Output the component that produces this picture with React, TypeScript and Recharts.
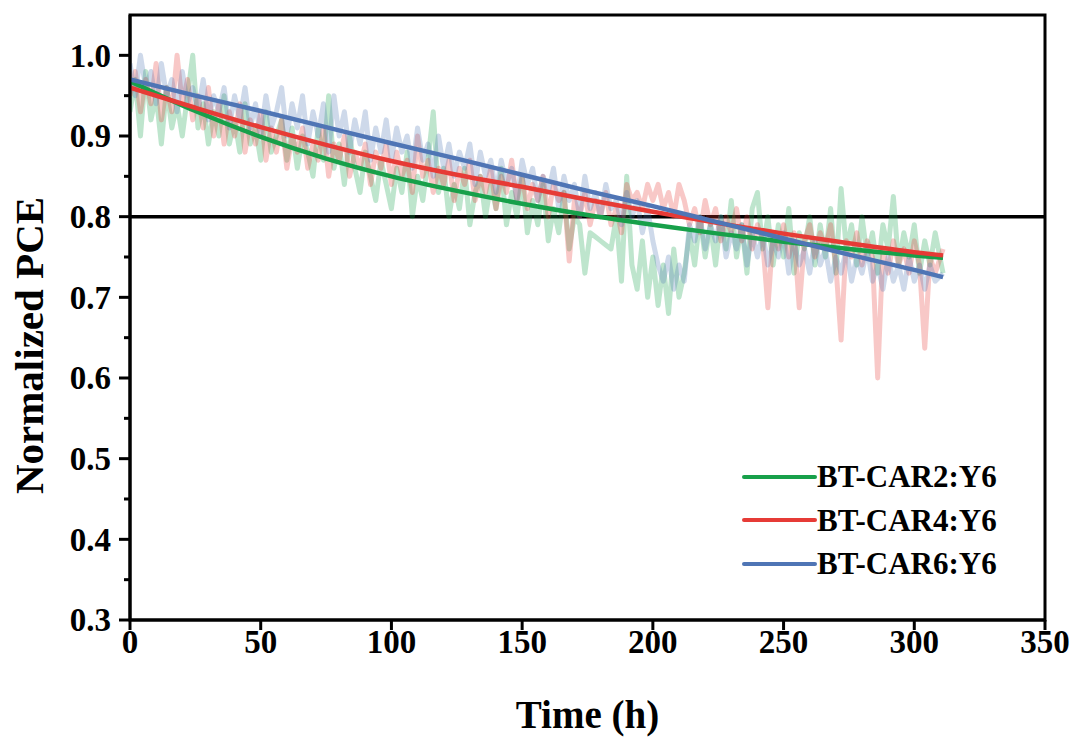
import React from 'react';
import {
  ComposedChart,
  Line,
  XAxis,
  YAxis,
  ReferenceLine,
  ReferenceArea,
  Legend,
  Label,
} from 'recharts';

// measured time points (h)
const rawTime = [
  0, 2, 4, 6, 8, 10, 12, 14, 16, 18,
  20, 22, 24, 26, 28, 30, 32, 34, 36, 38,
  40, 42, 44, 46, 48, 50, 52, 54, 56, 58,
  60, 62, 64, 66, 68, 70, 72, 74, 76, 78,
  80, 82, 84, 86, 88, 90, 92, 94, 96, 98,
  100, 102, 104, 106, 108, 110, 112, 114, 116, 118,
  120, 122, 124, 126, 128, 130, 132, 134, 136, 138,
  140, 142, 144, 146, 148, 150, 152, 154, 156, 158,
  160, 162, 164, 166, 168, 170, 172, 174, 176, 178,
  180, 182, 184, 186, 188, 190, 192, 194, 196, 198,
  200, 202, 204, 206, 208, 210, 212, 214, 216, 218,
  220, 222, 224, 226, 228, 230, 232, 234, 236, 238,
  240, 242, 244, 246, 248, 250, 252, 254, 256, 258,
  260, 262, 264, 266, 268, 270, 272, 274, 276, 278,
  280, 282, 284, 286, 288, 290, 292, 294, 296, 298,
  300, 302, 304, 306, 308, 311,
];

const car2Raw = [
  0.93, 0.97, 0.9, 0.98, 0.92, 0.95, 0.89, 0.96, 0.91, 0.94,
  0.9, 0.95, 1.0, 0.91, 0.94, 0.89, 0.93, 0.9, 0.95, 0.89,
  0.92, 0.88, 0.94, 0.89, 0.91, 0.87, 0.93, 0.88, 0.9, 0.92,
  0.87, 0.91, 0.86, 0.9, 0.88, 0.85, 0.91, 0.87, 0.95, 0.86,
  0.89, 0.84, 0.9, 0.86, 0.83, 0.88, 0.85, 0.82, 0.87, 0.84,
  0.81, 0.86, 0.83, 0.88, 0.8, 0.85, 0.82, 0.87, 0.93, 0.83,
  0.86, 0.8, 0.84, 0.81, 0.86, 0.79, 0.83, 0.85, 0.8, 0.84,
  0.81, 0.86, 0.79, 0.83, 0.8, 0.85, 0.78, 0.82, 0.79, 0.84,
  0.77, 0.81, 0.78, 0.83, 0.76, 0.8, 0.79, 0.73, 0.78, 0.775,
  0.77, 0.765, 0.76, 0.8, 0.72, 0.85, 0.74, 0.71, 0.77, 0.7,
  0.75, 0.69, 0.74, 0.68, 0.76, 0.7, 0.73, 0.78, 0.74, 0.8,
  0.75, 0.79, 0.74, 0.8, 0.76, 0.82, 0.75, 0.79, 0.73, 0.81,
  0.83, 0.76, 0.8, 0.74, 0.79, 0.75, 0.81, 0.73, 0.78, 0.76,
  0.8, 0.74, 0.79, 0.75, 0.81, 0.73, 0.835, 0.76, 0.79, 0.74,
  0.8, 0.75, 0.78, 0.73, 0.79, 0.76, 0.825, 0.74, 0.78, 0.75,
  0.79, 0.73, 0.77, 0.74, 0.78, 0.73,
];

const car4Raw = [
  0.95, 0.98, 0.93, 0.97, 0.94, 0.99, 0.92, 0.96, 0.93, 1.0,
  0.94, 0.97, 0.92, 0.95, 0.91, 0.96, 0.9, 0.94, 0.89, 0.93,
  0.9, 0.94, 0.88, 0.92, 0.89, 0.93, 0.87, 0.91, 0.88, 0.92,
  0.86, 0.9, 0.88, 0.91, 0.86, 0.89, 0.87, 0.91, 0.85, 0.89,
  0.87, 0.9, 0.85, 0.88, 0.86, 0.89, 0.84, 0.88, 0.86, 0.89,
  0.84, 0.88, 0.85, 0.87, 0.83, 0.9, 0.85, 0.87, 0.83, 0.86,
  0.84, 0.87, 0.82, 0.86, 0.84, 0.87, 0.82, 0.85, 0.83, 0.86,
  0.81, 0.85, 0.83, 0.87, 0.82, 0.85, 0.81, 0.84, 0.82, 0.85,
  0.8, 0.84, 0.82, 0.83, 0.745, 0.82, 0.8, 0.83, 0.79, 0.82,
  0.8, 0.83, 0.79, 0.81, 0.78, 0.84, 0.82, 0.83, 0.81, 0.84,
  0.82, 0.84, 0.81, 0.83, 0.8, 0.84, 0.82, 0.79, 0.81, 0.78,
  0.82, 0.79, 0.81, 0.77, 0.8, 0.78, 0.81, 0.77, 0.8, 0.76,
  0.79, 0.77, 0.687, 0.78, 0.76, 0.79, 0.75, 0.78, 0.687, 0.77,
  0.79, 0.75, 0.78, 0.76, 0.79, 0.74, 0.647, 0.77, 0.75, 0.78,
  0.74, 0.77, 0.75, 0.6, 0.76, 0.73, 0.77, 0.74, 0.76, 0.73,
  0.77, 0.74, 0.637, 0.75, 0.73, 0.76,
];

const car6Raw = [
  0.99, 0.95, 1.0, 0.96, 0.98, 0.94, 0.99, 0.95, 0.97, 0.93,
  0.98, 0.94, 0.96, 0.93, 0.97, 0.92, 0.95, 0.93, 0.96, 0.91,
  0.95, 0.92, 0.96, 0.91, 0.94, 0.9, 0.95, 0.91, 0.93, 0.96,
  0.9, 0.94, 0.91, 0.95, 0.89, 0.93, 0.9, 0.94, 0.88, 0.95,
  0.9, 0.93, 0.88, 0.92, 0.89, 0.93, 0.87, 0.91, 0.88, 0.92,
  0.87, 0.91, 0.88, 0.9, 0.86, 0.91, 0.87, 0.89, 0.85, 0.9,
  0.86, 0.89, 0.85, 0.88, 0.86, 0.89, 0.84, 0.88, 0.85, 0.87,
  0.83, 0.87, 0.84, 0.86, 0.82, 0.87, 0.84, 0.86, 0.82, 0.85,
  0.83, 0.86, 0.81, 0.85, 0.82, 0.84, 0.8, 0.85, 0.81, 0.83,
  0.8, 0.84, 0.81, 0.82, 0.79, 0.83, 0.8, 0.82, 0.78, 0.81,
  0.77, 0.74, 0.72, 0.75, 0.71, 0.74, 0.72, 0.79, 0.77, 0.8,
  0.76, 0.79, 0.77, 0.8, 0.75, 0.78, 0.76, 0.79, 0.74, 0.78,
  0.75, 0.78, 0.74, 0.77, 0.75, 0.78, 0.73, 0.77, 0.74, 0.76,
  0.73, 0.77, 0.74, 0.76, 0.72, 0.75, 0.73, 0.76, 0.72, 0.75,
  0.73, 0.76, 0.72, 0.74, 0.71, 0.75, 0.72, 0.74, 0.71, 0.75,
  0.72, 0.74, 0.71, 0.74, 0.72, 0.73,
];

// fitted trend lines
const fitTime = [0, 25, 50, 75, 100, 125, 150, 175, 200, 225, 250, 275, 300, 311];
const car2Fit = [0.968, 0.931, 0.899, 0.872, 0.85, 0.832, 0.816, 0.802, 0.79, 0.779, 0.769, 0.76, 0.752, 0.749];
const car4Fit = [0.96, 0.935, 0.911, 0.889, 0.869, 0.852, 0.837, 0.821, 0.806, 0.792, 0.779, 0.767, 0.756, 0.752];
const car6Fit = [0.97, 0.95, 0.931, 0.911, 0.891, 0.872, 0.852, 0.832, 0.813, 0.793, 0.773, 0.753, 0.734, 0.725];

const seriesNames = ['BT-CAR2:Y6', 'BT-CAR4:Y6', 'BT-CAR6:Y6'];
const seriesColors = ['#17a04a', '#e63b36', '#4f75b5'];

const xTicks = [0, 50, 100, 150, 200, 250, 300, 350];
const yMajor = [0.3, 0.4, 0.5, 0.6, 0.7, 0.8, 0.9, 1.0];
const yMinor = [0.35, 0.45, 0.55, 0.65, 0.75, 0.85, 0.95];

const rawData = rawTime.map((t, i) => ({ t, a: car2Raw[i], b: car4Raw[i], c: car6Raw[i] }));
const fitData = fitTime.map((t, i) => ({ t, a: car2Fit[i], b: car4Fit[i], c: car6Fit[i] }));

const FONT = '"Liberation Serif", "Times New Roman", serif';

const YTick = (props: any) => {
  const { x, y, payload } = props;
  const v = Number(payload.value);
  const major = yMajor.some((m) => Math.abs(m - v) < 1e-6);
  return (
    <g>
      <line x1={x} x2={x - (major ? 11 : 6)} y1={y} y2={y} stroke="#000" strokeWidth={3} />
      {major && (
        <text
          x={x - 19}
          y={y}
          dy="0.34em"
          textAnchor="end"
          fontFamily={FONT}
          fontWeight="bold"
          fontSize={33}
          fill="#000"
        >
          {v.toFixed(1)}
        </text>
      )}
    </g>
  );
};

const LegendBox = () => (
  <div style={{ fontFamily: FONT, fontWeight: 'bold', fontSize: 31, lineHeight: '43.5px' }}>
    {seriesNames.map((name, i) => (
      <div key={name} style={{ display: 'flex', alignItems: 'center' }}>
        <span style={{ display: 'inline-block', width: 75, height: 4, background: seriesColors[i], borderRadius: 2 }} />
        <span style={{ color: '#000' }}>{name}</span>
      </div>
    ))}
  </div>
);

export default function App() {
  return (
    <div style={{ position: 'absolute', left: 0, top: 0, background: '#fff' }}>
      <ComposedChart width={1077} height={742} margin={{ top: 15, right: 32, left: 0, bottom: 0 }}>
        <XAxis
          dataKey="t"
          type="number"
          domain={[0, 350]}
          ticks={xTicks}
          interval={0}
          height={122}
          allowDataOverflow
          axisLine={{ stroke: '#000', strokeWidth: 3 }}
          tickLine={{ stroke: '#000', strokeWidth: 3 }}
          tickSize={10}
          tickMargin={0}
          tick={{ fontFamily: FONT, fontWeight: 'bold', fontSize: 33, fill: '#000' }}
        >
          <Label
            value="Time (h)"
            position="insideBottom"
            offset={14}
            style={{ fontFamily: FONT, fontWeight: 'bold', fontSize: 39, fill: '#000' }}
          />
        </XAxis>
        <YAxis
          type="number"
          domain={[0.3, 1.05]}
          ticks={[...yMajor, ...yMinor].sort((p, q) => p - q)}
          interval={0}
          width={130}
          allowDataOverflow
          axisLine={{ stroke: '#000', strokeWidth: 3 }}
          tickLine={false}
          tickSize={0}
          tickMargin={0}
          tick={<YTick />}
        >
          <Label
            content={(p: any) => {
              const vb = p.viewBox;
              const cx = vb.x + 29;
              const cy = vb.y + vb.height / 2 + 28;
              return (
                <text
                  x={cx}
                  y={cy}
                  dy="0.35em"
                  transform={`rotate(-90, ${cx}, ${cy})`}
                  textAnchor="middle"
                  fontFamily={FONT}
                  fontWeight="bold"
                  fontSize={41}
                  fill="#000"
                >
                  Normalized PCE
                </text>
              );
            }}
          />
        </YAxis>
        <ReferenceLine y={0.8} stroke="#000" strokeWidth={3.5} />
        {['a', 'b', 'c'].map((k, i) => (
          <Line
            key={'raw-' + k}
            data={rawData}
            dataKey={k}
            type="linear"
            stroke={seriesColors[i]}
            strokeOpacity={0.28}
            strokeWidth={5}
            strokeLinejoin="round"
            dot={false}
            legendType="none"
            isAnimationActive={false}
          />
        ))}
        {['a', 'b', 'c'].map((k, i) => (
          <Line
            key={'fit-' + k}
            data={fitData}
            dataKey={k}
            name={seriesNames[i]}
            type="monotone"
            stroke={seriesColors[i]}
            strokeWidth={4.5}
            dot={false}
            isAnimationActive={false}
          />
        ))}
        <ReferenceArea x1={0} x2={350} y1={0.3} y2={1.05} fill="none" stroke="#000" strokeWidth={3} />
        <Legend
          layout="horizontal"
          align="center"
          verticalAlign="middle"
          wrapperStyle={{ left: 742, top: 455, width: 280 }}
          content={() => <LegendBox />}
        />
      </ComposedChart>
    </div>
  );
}
